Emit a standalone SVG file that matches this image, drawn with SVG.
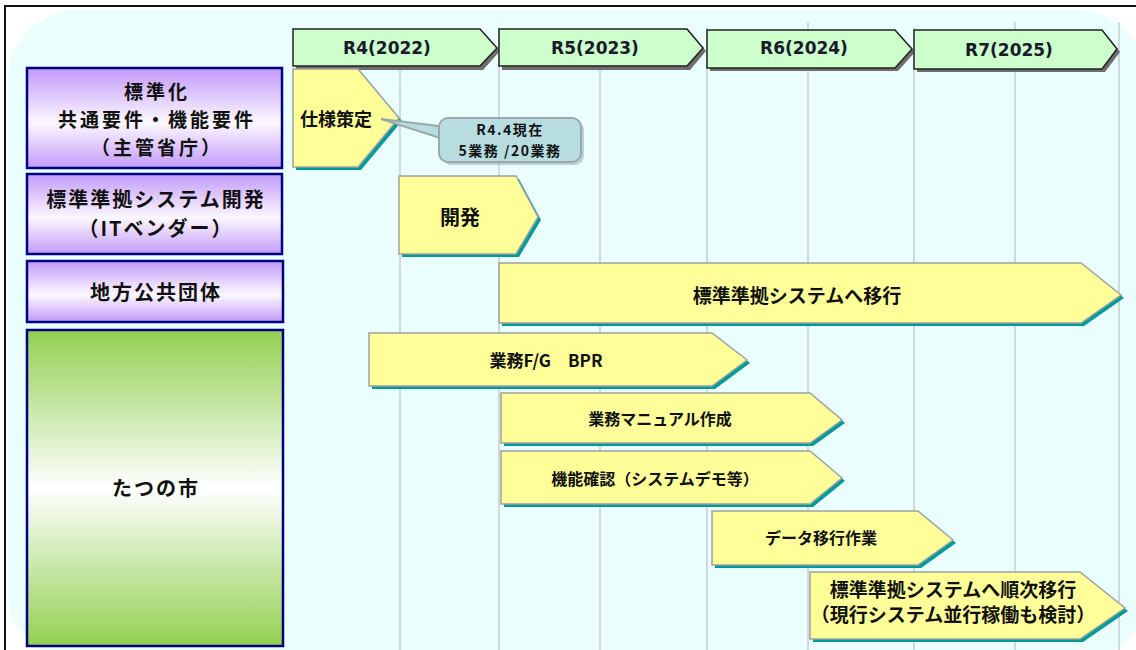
<svg xmlns="http://www.w3.org/2000/svg" width="1136" height="650" viewBox="0 0 1136 650">
<defs>
<linearGradient id="gPurple" x1="0" y1="0" x2="0" y2="1">
<stop offset="0" stop-color="#C29AFA"/><stop offset="0.55" stop-color="#FCF8FF"/><stop offset="1" stop-color="#C29AFA"/>
</linearGradient>
<linearGradient id="gGreen" x1="0" y1="0" x2="0" y2="1">
<stop offset="0" stop-color="#92D050"/><stop offset="0.5" stop-color="#FFFFFF"/><stop offset="1" stop-color="#92D050"/>
</linearGradient>
<style>
.bg{fill:#EAFEFE}
.grid{stroke:#C6CCCC;stroke-width:1.5}
.hdr{fill:#CCFFCC;stroke:#222;stroke-width:1.5}
.hdrsh{fill:#6E6E6E}
.lbl{stroke:#000080;stroke-width:2.5}
.bar{fill:#FFFF99;stroke:#A0A0A0;stroke-width:1.5}
.barsh{fill:#009A9A}
.call{fill:#B8DDE0;stroke:#9AA8AA;stroke-width:2}
text{font-family:"Noto Sans CJK JP","Noto Sans",sans-serif;font-weight:bold;fill:#111;text-anchor:middle;dominant-baseline:central}
.ht{font-family:"DejaVu Sans","Noto Sans",sans-serif;font-size:17px;fill:#1a1a2a}
.lt{font-size:20px;letter-spacing:2px}
.lt1{font-size:19px;letter-spacing:3px}
.bt{font-size:16px}
.bt17{font-size:17px}
.bt18{font-size:18px}
.bt20{font-size:20px}
.bt2{font-size:19px}
.ct{font-size:14px;letter-spacing:1.5px}
</style>
</defs>
<rect x="0" y="0" width="1136" height="650" fill="#FFFFFF"/>
<rect class="bg" x="8" y="10" width="1138" height="652" rx="70" ry="70"/>
<path d="M5 650 V6 H1136" fill="none" stroke="#111" stroke-width="2"/>
<g id="grid">
<line class="grid" x1="400" y1="28" x2="400" y2="650"/>
<line class="grid" x1="499" y1="28" x2="499" y2="650"/>
<line class="grid" x1="600" y1="28" x2="600" y2="650"/>
<line class="grid" x1="707" y1="28" x2="707" y2="650"/>
<line class="grid" x1="808" y1="22" x2="808" y2="650"/>
<line class="grid" x1="914" y1="28" x2="914" y2="650"/>
<line class="grid" x1="1015" y1="22" x2="1015" y2="650"/>
<line class="grid" x1="1119" y1="22" x2="1119" y2="650"/>
</g>
<g id="hdr-r4">
<polygon class="hdrsh" points="296,32 483,32 500,51 483,70 296,70"/>
<polygon class="hdr" points="293,29 480,29 497,48 480,66 293,66"/>
<text class="ht" x="387" y="48">R4(2022)</text>
</g>
<g id="hdr-r5">
<polygon class="hdrsh" points="502,32 690,32 706,51 690,70 502,70"/>
<polygon class="hdr" points="499,29 687,29 703,48 687,66 499,66"/>
<text class="ht" x="595" y="48">R5(2023)</text>
</g>
<g id="hdr-r6">
<polygon class="hdrsh" points="710,33 898,33 915,52 898,71 710,71"/>
<polygon class="hdr" points="707,30 895,30 912,49 895,68 707,68"/>
<text class="ht" x="804" y="48">R6(2024)</text>
</g>
<g id="hdr-r7">
<polygon class="hdrsh" points="917,33 1105,33 1120,52 1105,72 917,72"/>
<polygon class="hdr" points="914,30 1102,30 1117,49 1102,69 914,69"/>
<text class="ht" x="1009" y="50">R7(2025)</text>
</g>
<g id="lbl-std">
<rect class="lbl" x="27" y="68" width="255" height="100" fill="url(#gPurple)"/>
<text class="lt1" x="157" y="90">標準化</text>
<text class="lt1" x="157" y="118">共通要件・機能要件</text>
<text class="lt1" x="157" y="146">（主管省庁）</text>
</g>
<g id="lbl-vendor">
<rect class="lbl" x="27" y="174" width="255" height="80" fill="url(#gPurple)"/>
<text class="lt" x="156" y="198">標準準拠システム開発</text>
<text class="lt" x="156" y="227">（ITベンダー）</text>
</g>
<g id="lbl-local">
<rect class="lbl" x="27" y="261" width="256" height="61" fill="url(#gPurple)"/>
<text class="lt" x="156" y="291">地方公共団体</text>
</g>
<g id="lbl-tatsuno">
<rect class="lbl" x="27" y="330" width="256" height="316" fill="url(#gGreen)"/>
<text class="lt" x="156" y="487">たつの市</text>
</g>
<g id="bar-spec">
<polygon class="barsh" points="296,72 361,72 402,121 361,170 296,170"/>
<polygon class="bar" points="293,69 358,69 399,118 358,167 293,167"/>
<text class="bt18" x="336" y="118">仕様策定</text>
</g>
<g id="callout">
<polygon class="call" points="381,119 446,127 446,140"/>
<rect x="442" y="121" width="142" height="44" rx="9" fill="#8FA6A8" opacity="0.5"/>
<rect class="call" x="439" y="118" width="142" height="44" rx="9"/>
<text class="ct" x="510" y="129">R4.4現在</text>
<text class="ct" x="510" y="150">5業務 /20業務</text>
</g>
<g id="bar-dev">
<polygon class="barsh" points="402,179 519,179 541,220 519,257 402,257"/>
<polygon class="bar" points="399,176 516,176 538,217 516,254 399,254"/>
<text class="bt20" x="460" y="216">開発</text>
</g>
<g id="bar-migrate">
<polygon class="barsh" points="502,266 1084,266 1124,298 1084,326 502,326"/>
<polygon class="bar" points="499,263 1081,263 1121,295 1081,323 499,323"/>
<text class="bt2" x="797" y="294">標準準拠システムへ移行</text>
</g>
<g id="bar-bpr">
<polygon class="barsh" points="372,336 715,336 750,363 715,389 372,389"/>
<polygon class="bar" points="369,333 712,333 747,360 712,386 369,386"/>
<text class="bt17" x="546" y="359">業務F/G　BPR</text>
</g>
<g id="bar-manual">
<polygon class="barsh" points="504,396 813,396 845,423 813,446 504,446"/>
<polygon class="bar" points="501,393 810,393 842,420 810,443 501,443"/>
<text class="bt" x="660" y="418">業務マニュアル作成</text>
</g>
<g id="bar-func">
<polygon class="barsh" points="504,454 813,454 845,481 813,507 504,507"/>
<polygon class="bar" points="501,451 810,451 842,478 810,504 501,504"/>
<text class="bt" x="655" y="478">機能確認（システムデモ等）</text>
</g>
<g id="bar-data">
<polygon class="barsh" points="715,514 921,514 956,543 921,568 715,568"/>
<polygon class="bar" points="712,511 918,511 953,540 918,565 712,565"/>
<text class="bt" x="821" y="537">データ移行作業</text>
</g>
<g id="bar-sequential">
<polygon class="barsh" points="813,575 1083,575 1128,611 1083,642 813,642"/>
<polygon class="bar" points="810,572 1080,572 1125,608 1080,639 810,639"/>
<text class="bt2" x="953" y="588">標準準拠システムへ順次移行</text>
<text class="bt2" x="953" y="613">（現行システム並行稼働も検討）</text>
</g>
</svg>
